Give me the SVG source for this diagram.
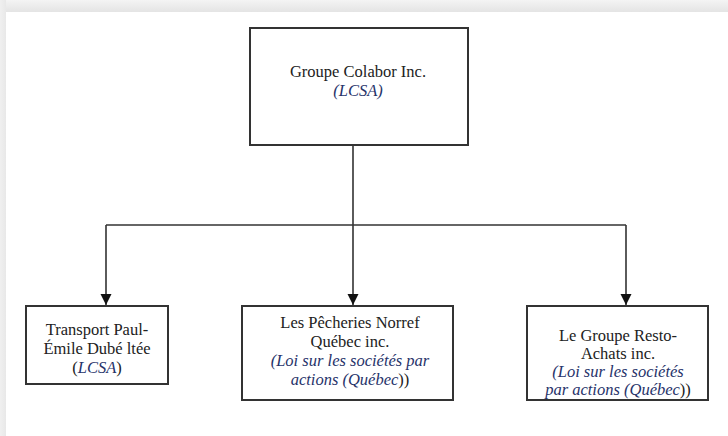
<svg xmlns="http://www.w3.org/2000/svg" width="728" height="436" viewBox="0 0 728 436">
<defs>
<linearGradient id="gt" x1="0" y1="0" x2="0" y2="1"><stop offset="0" stop-color="#f4f4f4"/><stop offset="1" stop-color="#e4e4e4"/></linearGradient>
<linearGradient id="gl" x1="0" y1="0" x2="1" y2="0"><stop offset="0" stop-color="#f0f0f0"/><stop offset="1" stop-color="#e8e8e8"/></linearGradient>
<marker id="ah" markerWidth="11" markerHeight="12" refX="10" refY="5" orient="auto" markerUnits="userSpaceOnUse" viewBox="0 0 10 10"><path d="M0,0 L10,5 L0,10 Z" fill="#111"/></marker>
<style>
.box{fill:#fff;stroke:#333;stroke-width:2}
.t{font-family:'Liberation Serif','Times New Roman',Times,serif;font-size:16.5px;fill:#222;text-anchor:middle}
.i{font-style:italic;fill:#27336a}
.c{fill:none;stroke:#333;stroke-width:1.6}
</style>
</defs>
<rect width="728" height="436" fill="#fff"/>
<rect x="0" y="0" width="728" height="12" fill="url(#gt)"/>
<rect x="0" y="0" width="6" height="436" fill="url(#gl)"/>
<g id="connectors">
<path class="c" d="M353,145 V305" marker-end="url(#ah)"/>
<path class="c" d="M106,225 H626"/>
<path class="c" d="M106,225 V305" marker-end="url(#ah)"/>
<path class="c" d="M626,225 V305" marker-end="url(#ah)"/>
</g>
<g id="n0">
<rect class="box" x="250" y="28" width="218" height="117"/>
<text class="t" x="358" y="77">Groupe Colabor Inc.</text>
<text class="t" x="358" y="96"><tspan class="i">(LCSA)</tspan></text>
</g>
<g id="n1">
<rect class="box" x="26" y="306" width="142" height="78"/>
<text class="t" x="97" y="335">Transport Paul-</text>
<text class="t" x="97" y="354">Émile Dubé ltée</text>
<text class="t" x="97" y="373">(<tspan class="i">LCSA</tspan>)</text>
</g>
<g id="n2">
<rect class="box" x="242" y="306" width="211" height="94"/>
<text class="t" x="350" y="328">Les Pêcheries Norref</text>
<text class="t" x="350" y="347">Québec inc.</text>
<text class="t" x="350" y="366"><tspan class="i">(Loi sur les sociétés par</tspan></text>
<text class="t" x="350" y="385"><tspan class="i">actions (Québec</tspan>))</text>
</g>
<g id="n3">
<rect class="box" x="527" y="306" width="181" height="94"/>
<text class="t" x="618" y="341">Le Groupe Resto-</text>
<text class="t" x="618" y="359">Achats inc.</text>
<text class="t" x="618" y="377"><tspan class="i">(Loi sur les sociétés</tspan></text>
<text class="t" x="618" y="395"><tspan class="i">par actions (Québec</tspan>))</text>
</g>
</svg>
